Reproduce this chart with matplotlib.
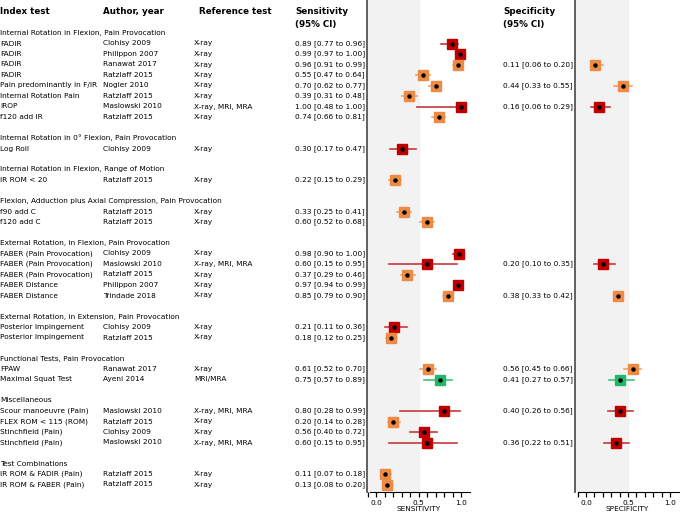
import matplotlib
matplotlib.use("Agg")
import matplotlib.pyplot as plt

W, H = 680, 517

groups = [
    "Internal Rotation in Flexion, Pain Provocation",
    "Internal Rotation in 0° Flexion, Pain Provocation",
    "Internal Rotation in Flexion, Range of Motion",
    "Flexion, Adduction plus Axial Compression, Pain Provocation",
    "External Rotation, in Flexion, Pain Provocation",
    "External Rotation, in Extension, Pain Provocation",
    "Functional Tests, Pain Provocation",
    "Miscellaneous",
    "Test Combinations",
]
group_of_row = [0] * 8 + [1] + [2] + [3] * 2 + [4] * 5 + [5] * 2 + [6] * 2 + [7] * 4 + [8] * 2

tests = ["FADIR", "FADIR", "FADIR", "FADIR", "Pain predominantly in F/IR", "Internal Rotation Pain",
         "IROP", "f120 add IR", "Log Roll", "IR ROM < 20", "f90 add C", "f120 add C",
         "FABER (Pain Provocation)", "FABER (Pain Provocation)", "FABER (Pain Provocation)",
         "FABER Distance", "FABER Distance", "Posterior Impingement", "Posterior Impingement",
         "FPAW", "Maximal Squat Test", "Scour manoeuvre (Pain)", "FLEX ROM < 115 (ROM)",
         "Stinchfield (Pain)", "Stinchfield (Pain)", "IR ROM & FADIR (Pain)", "IR ROM & FABER (Pain)"]
authors = ["Clohisy 2009", "Philippon 2007", "Ranawat 2017", "Ratzlaff 2015", "Nogler 2010",
           "Ratzlaff 2015", "Maslowski 2010", "Ratzlaff 2015", "Clohisy 2009", "Ratzlaff 2015",
           "Ratzlaff 2015", "Ratzlaff 2015", "Clohisy 2009", "Maslowski 2010", "Ratzlaff 2015",
           "Philippon 2007", "Trindade 2018", "Clohisy 2009", "Ratzlaff 2015", "Ranawat 2017",
           "Ayeni 2014", "Maslowski 2010", "Ratzlaff 2015", "Clohisy 2009", "Maslowski 2010",
           "Ratzlaff 2015", "Ratzlaff 2015"]
refs = ["X-ray", "X-ray", "X-ray", "X-ray", "X-ray", "X-ray", "X-ray, MRI, MRA", "X-ray", "X-ray",
        "X-ray", "X-ray", "X-ray", "X-ray", "X-ray, MRI, MRA", "X-ray", "X-ray", "X-ray", "X-ray",
        "X-ray", "X-ray", "MRI/MRA", "X-ray, MRI, MRA", "X-ray", "X-ray", "X-ray, MRI, MRA",
        "X-ray", "X-ray"]
sens = [0.89, 0.99, 0.96, 0.55, 0.70, 0.39, 1.00, 0.74, 0.30, 0.22, 0.33, 0.60, 0.98, 0.60, 0.37,
        0.97, 0.85, 0.21, 0.18, 0.61, 0.75, 0.80, 0.20, 0.56, 0.60, 0.11, 0.13]
sens_lo = [0.77, 0.97, 0.91, 0.47, 0.62, 0.31, 0.48, 0.66, 0.17, 0.15, 0.25, 0.52, 0.90, 0.15, 0.29,
           0.94, 0.79, 0.11, 0.12, 0.52, 0.57, 0.28, 0.14, 0.40, 0.15, 0.07, 0.08]
sens_hi = [0.96, 1.00, 0.99, 0.64, 0.77, 0.48, 1.00, 0.81, 0.47, 0.29, 0.41, 0.68, 1.00, 0.95, 0.46,
           0.99, 0.90, 0.36, 0.25, 0.70, 0.89, 0.99, 0.28, 0.72, 0.95, 0.18, 0.20]
# specificity: None where not reported
spec = [None, None, 0.11, None, 0.44, None, 0.16, None, None, None, None, None, None, 0.20, None,
        None, 0.38, None, None, 0.56, 0.41, 0.40, None, None, 0.36, None, None]
spec_lo = [None, None, 0.06, None, 0.33, None, 0.06, None, None, None, None, None, None, 0.10, None,
           None, 0.33, None, None, 0.45, 0.27, 0.26, None, None, 0.22, None, None]
spec_hi = [None, None, 0.20, None, 0.55, None, 0.29, None, None, None, None, None, None, 0.35, None,
           None, 0.42, None, None, 0.66, 0.57, 0.56, None, None, 0.51, None, None]
# risk category colour key: r = high, o = moderate, g = low
risk = ["r", "r", "o", "o", "o", "o", "r", "o", "r", "o", "o", "o", "r", "r", "o", "r", "o",
        "r", "o", "o", "g", "r", "o", "r", "r", "o", "o"]

BOX = {"r": "#c00000", "o": "#ed8a45", "g": "#22b867"}
LINE = {"r": "#c6383f", "o": "#f2a36b", "g": "#3cc47a"}

# layout (pixel rows)
step = 10.5
ys, gys = [], []
y = 33
prev = None
for g in group_of_row:
    if g != prev:
        if prev is not None:
            y += step
        gys.append(y)
        y += step
        prev = g
    ys.append(y)
    y += step

BOTTOM = 492
fig = plt.figure(figsize=(W / 100, H / 100), dpi=100)


def ftxt(x, y, s, **kw):
    fig.text(x / W, 1 - y / H, s, va="center", **kw)


fs = 5.3
ftxt(0, 12, "Index test", fontsize=6.3, weight="bold")
ftxt(103, 12, "Author, year", fontsize=6.3, weight="bold")
ftxt(235, 12, "Reference test", fontsize=6.3, weight="bold", ha="center")
ftxt(295, 12, "Sensitivity", fontsize=6.3, weight="bold")
ftxt(295, 24, "(95% CI)", fontsize=6.3, weight="bold")
ftxt(503, 12, "Specificity", fontsize=6.3, weight="bold")
ftxt(503, 24, "(95% CI)", fontsize=6.3, weight="bold")

for gy, gname in zip(gys, groups):
    ftxt(0, gy, gname, fontsize=fs)
for i, yy in enumerate(ys):
    ftxt(0, yy, tests[i], fontsize=fs)
    ftxt(103, yy, authors[i], fontsize=fs)
    ftxt(194, yy, refs[i], fontsize=fs)
    ftxt(295, yy, f"{sens[i]:.2f} [{sens_lo[i]:.2f} to {sens_hi[i]:.2f}]", fontsize=fs)
    if spec[i] is not None:
        ftxt(503, yy, f"{spec[i]:.2f} [{spec_lo[i]:.2f} to {spec_hi[i]:.2f}]", fontsize=fs)


def panel(x_left, x0, x1, x_right, vals, los, his, label):
    scale = x1 - x0
    lo_lim = (x_left - x0) / scale
    hi_lim = (x_right - x0) / scale
    ax = fig.add_axes([x_left / W, (H - BOTTOM) / H, (x_right - x_left) / W, BOTTOM / H])
    ax.set_xlim(lo_lim, hi_lim)
    ax.set_ylim(BOTTOM, 0)
    ax.axvspan(lo_lim, 0.5, color="#f2f2f2", zorder=0)
    for i, yy in enumerate(ys):
        if vals[i] is None:
            continue
        c = risk[i]
        ax.plot([los[i], his[i]], [yy, yy], color=LINE[c], lw=1.2, zorder=2)
        ax.plot(vals[i], yy, marker="s", ms=7.5, color=BOX[c], mec=BOX[c], zorder=3)
        ax.plot(vals[i], yy, marker="o", ms=2.2, color="black", zorder=4)
    for s in ["top", "right"]:
        ax.spines[s].set_visible(False)
    ax.spines["left"].set_color("#555555")
    ax.spines["left"].set_linewidth(1.3)
    ax.spines["bottom"].set_bounds(lo_lim + 0.04, hi_lim)
    ax.set_yticks([])
    ax.set_xticks([0, 0.5, 1.0])
    ax.set_xticklabels(["0.0", "0.5", "1.0"], fontsize=5.3)
    ax.set_xticks([x / 10 for x in range(-1, 11)], minor=True)
    ax.tick_params(axis="x", which="both", length=3.5, width=0.9, pad=2.5)
    ax.set_xlabel(label, fontsize=5.3, labelpad=-0.5)


panel(367, 376, 461, 470, sens, sens_lo, sens_hi, "SENSITIVITY")
panel(575, 586, 670, 680, spec, spec_lo, spec_hi, "SPECIFICITY")

fig.savefig("out.png", dpi=100)
